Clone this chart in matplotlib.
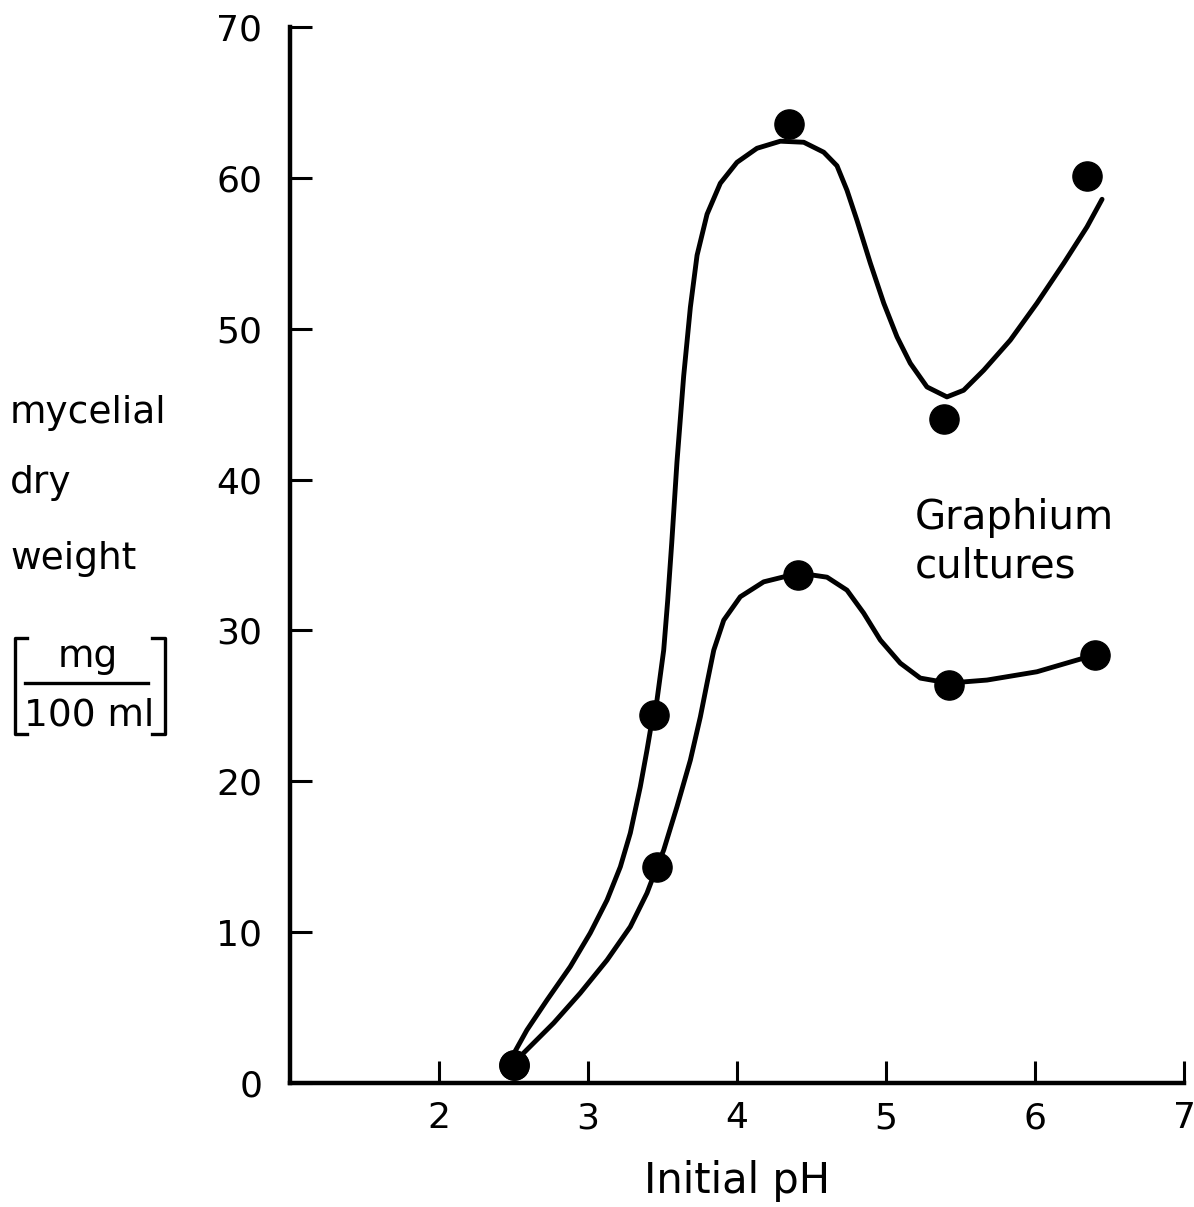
import matplotlib
matplotlib.use("Agg")
import matplotlib.pyplot as plt
from matplotlib.lines import Line2D

# Measured data points
upper_ph = [2.50, 3.44, 4.35, 5.39, 6.35]
upper_wt = [1.2, 24.4, 63.6, 44.0, 60.1]
lower_ph = [2.50, 3.46, 4.41, 5.42, 6.40]
lower_wt = [1.2, 14.3, 33.7, 26.4, 28.4]

# Hand-drawn smooth curves
upper_curve_ph = [2.505, 2.59, 2.725, 2.881, 3.015, 3.128, 3.217, 3.284, 3.351, 3.396,
                  3.436, 3.463, 3.508, 3.535, 3.562, 3.597, 3.642, 3.687, 3.732, 3.799,
                  3.888, 4.000, 4.134, 4.291, 4.448, 4.582, 4.671, 4.738, 4.805, 4.895,
                  4.985, 5.074, 5.163, 5.275, 5.409, 5.521, 5.656, 5.834, 6.013, 6.193,
                  6.349, 6.450]
upper_curve_wt = [2.0, 3.51, 5.50, 7.71, 9.94, 12.13, 14.33, 16.57, 19.64, 22.07,
                  24.39, 25.38, 28.69, 32.0, 35.8, 41.15, 46.85, 51.42, 54.87, 57.59,
                  59.64, 61.03, 61.96, 62.43, 62.36, 61.70, 60.80, 59.18, 57.19, 54.34,
                  51.69, 49.46, 47.71, 46.14, 45.48, 45.92, 47.25, 49.24, 51.69, 54.34,
                  56.75, 58.58]
lower_curve_ph = [2.51, 2.568, 2.770, 2.948, 3.128, 3.284, 3.396, 3.463, 3.508, 3.597,
                  3.687, 3.754, 3.799, 3.844, 3.911, 4.022, 4.179, 4.416, 4.604, 4.738,
                  4.850, 4.962, 5.096, 5.230, 5.421, 5.678, 6.013, 6.394]
lower_curve_wt = [1.4, 1.99, 3.98, 5.96, 8.15, 10.36, 12.59, 14.33, 15.44, 18.31,
                  21.40, 24.27, 26.51, 28.69, 30.68, 32.23, 33.22, 33.80, 33.53, 32.67,
                  31.15, 29.36, 27.83, 26.84, 26.51, 26.71, 27.26, 28.36]

x_ticks = [2, 3, 4, 5, 6, 7]
y_ticks = [0, 10, 20, 30, 40, 50, 60, 70]

W, H = 1194, 1207
fig = plt.figure(figsize=(W / 100, H / 100), dpi=100)
ax = fig.add_axes([290 / W, 1 - 1083 / H, 894 / W, 1056 / H])

for cx, cy in [(upper_curve_ph, upper_curve_wt), (lower_curve_ph, lower_curve_wt)]:
    ax.plot(cx, cy, color="black", lw=3.5, solid_capstyle="round", solid_joinstyle="round")
for px, py in [(upper_ph, upper_wt), (lower_ph, lower_wt)]:
    ax.plot(px, py, "o", color="black", markersize=21, zorder=3)

ax.set_xlim(1, 7)
ax.set_ylim(0, 70)
ax.set_xticks(x_ticks)
ax.set_yticks(y_ticks)
ax.set_xticklabels([str(v) for v in x_ticks], fontsize=26)
ax.set_yticklabels([str(v) for v in y_ticks], fontsize=26)
ax.tick_params(axis="both", direction="in", length=16, width=2.2)
ax.tick_params(axis="x", pad=13)
ax.tick_params(axis="y", pad=20)
for s in ["top", "right"]:
    ax.spines[s].set_visible(False)
for s in ["left", "bottom"]:
    ax.spines[s].set_linewidth(3.2)
ax.set_xlabel("Initial pH", fontsize=30, labelpad=18)


def fx(p):
    return p / W


def fy(p):
    return 1 - p / H


fig.text(fx(915), fy(529), "Graphium", fontsize=29, ha="left", va="baseline")
fig.text(fx(915), fy(578), "cultures", fontsize=29, ha="left", va="baseline")

for txt, py in [("mycelial", 423), ("dry", 493), ("weight", 569)]:
    fig.text(fx(10), fy(py), txt, fontsize=27, ha="left", va="baseline")
fig.text(fx(88), fy(667), "mg", fontsize=27, ha="center", va="baseline")
fig.text(fx(89), fy(725), "100 ml", fontsize=27, ha="center", va="baseline")
lw = 2.4
fig.add_artist(Line2D([fx(25), fx(148)], [fy(683), fy(683)], transform=fig.transFigure, color="black", lw=lw))
fig.add_artist(Line2D([fx(27), fx(15), fx(15), fx(27)], [fy(638), fy(638), fy(734), fy(734)], transform=fig.transFigure, color="black", lw=lw))
fig.add_artist(Line2D([fx(152), fx(165), fx(165), fx(152)], [fy(638), fy(638), fy(734), fy(734)], transform=fig.transFigure, color="black", lw=lw))

fig.savefig("out.png", dpi=100)
